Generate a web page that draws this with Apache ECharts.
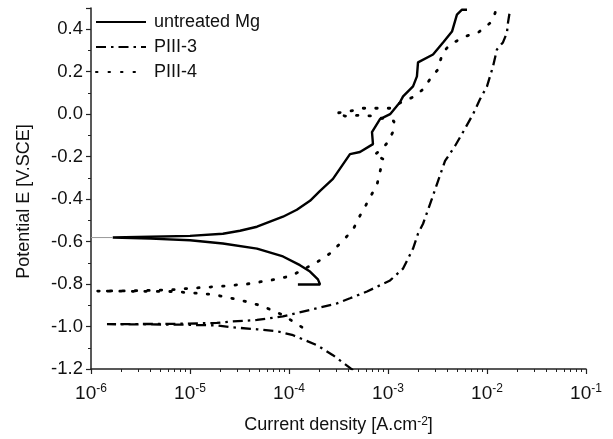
<!DOCTYPE html>
<html>
<head>
<meta charset="utf-8">
<script src="https://cdn.jsdelivr.net/npm/echarts@6/dist/echarts.min.js"></script>
<style>
html,body{margin:0;padding:0;background:#fff;}
#c{width:613px;height:439px;}
</style>
</head>
<body>
<div id="c"></div>
<script>
// ---- data (current density A/cm2, potential V vs SCE) ----
var seriesNames = ['untreated Mg', 'PIII-3', 'PIII-4'];
var xTickExponents = [-6, -5, -4, -3, -2, -1];
var yTickLabels = [-1.2, -1.0, -0.8, -0.6, -0.4, -0.2, 0.0, 0.2, 0.4];

var mgI = [1.23e-4, 2.06e-4, 1.96e-4, 1.63e-4, 1.29e-4, 8.69e-5, 4.75e-5, 2.15e-5, 1.0e-5, 4.0e-6, 1.66e-6,
           4.0e-6, 1.0e-5, 2.15e-5, 3.2e-5, 4.75e-5, 8.69e-5, 1.2e-4, 1.63e-4, 2.06e-4, 2.78e-4, 4.13e-4, 5.21e-4,
           7.05e-4, 6.89e-4, 8.30e-4, 1.05e-3, 1.32e-3, 1.42e-3, 1.79e-3, 1.96e-3, 2.01e-3, 2.85e-3, 3.60e-3,
           4.43e-3, 4.97e-3, 5.59e-3, 6.28e-3];
var mgE = [-0.802, -0.802, -0.778, -0.741, -0.711, -0.670, -0.633, -0.609, -0.594, -0.586, -0.581,
           -0.577, -0.573, -0.563, -0.549, -0.530, -0.483, -0.450, -0.408, -0.361, -0.305, -0.188, -0.178,
           -0.141, -0.084, -0.023, 0.0, 0.056, 0.084, 0.131, 0.178, 0.244, 0.281, 0.338,
           0.389, 0.469, 0.492, 0.492];

var p3I = [4.43e-4, 2.78e-4, 1.92e-4, 1.10e-4, 7.57e-5, 4.75e-5, 2.54e-5, 1.87e-5, 8e-6, 3.94e-6, 1.45e-6,
           3.94e-6, 8e-6, 1.87e-5, 2.54e-5, 4.75e-5, 8.69e-5, 1.92e-4, 3.05e-4, 4.13e-4, 6.14e-4, 1.05e-3,
           1.42e-3, 1.79e-3, 2.01e-3, 2.26e-3, 2.78e-3, 3.13e-3, 3.77e-3, 4.75e-3, 5.73e-3, 7.23e-3, 8.49e-3,
           1.0e-2, 1.15e-2, 1.26e-2, 1.45e-2, 1.59e-2, 1.63e-2, 1.71e-2];
var p3E = [-1.205, -1.135, -1.088, -1.041, -1.022, -1.013, -1.003, -0.995, -0.991, -0.990, -0.989,
           -0.988, -0.987, -0.983, -0.977, -0.969, -0.952, -0.914, -0.891, -0.867, -0.835, -0.783,
           -0.727, -0.633, -0.563, -0.516, -0.398, -0.328, -0.220, -0.150, -0.084, 0.0, 0.070,
           0.131, 0.225, 0.305, 0.338, 0.384, 0.431, 0.492];

var p4I = [1.35e-4, 8.69e-5, 5.33e-5, 3.20e-5, 1.71e-5, 6.73e-6, 2.48e-6, 1.15e-6, 2.48e-6, 6.0e-6, 1.0e-5,
           2.01e-5, 3.77e-5, 7.57e-5, 1.07e-4, 1.96e-4, 2.59e-4, 3.43e-4, 4.43e-4, 5.21e-4, 6.0e-4, 6.89e-4,
           7.74e-4, 8.30e-4, 8.90e-4, 7.23e-4, 8.49e-4, 1.0e-3, 1.12e-3, 1.15e-3, 7.05e-4, 5.09e-4, 3.68e-4,
           2.99e-4, 4.13e-4, 5.46e-4, 7.40e-4, 1.07e-3, 1.42e-3, 1.79e-3, 2.26e-3, 2.65e-3, 3.20e-3, 3.35e-3,
           3.60e-3, 4.23e-3, 6.0e-3, 8.11e-3, 8.89e-3, 1.12e-2, 1.21e-2, 1.23e-2];
var p4E = [-1.003, -0.946, -0.903, -0.875, -0.849, -0.835, -0.834, -0.833, -0.832, -0.828, -0.820,
           -0.811, -0.800, -0.777, -0.760, -0.694, -0.656, -0.600, -0.544, -0.478, -0.427, -0.375,
           -0.333, -0.272, -0.211, -0.192, -0.169, -0.131, -0.084, -0.033, -0.009, -0.005, -0.009,
           0.005, 0.014, 0.028, 0.028, 0.028, 0.061, 0.080, 0.117, 0.164, 0.211, 0.248,
           0.291, 0.328, 0.366, 0.384, 0.398, 0.436, 0.478, 0.502];

// faint baseline at the corrosion potential of untreated Mg
var mgLeadI = [1.0e-6, 1.66e-6];
var mgLeadE = [-0.581, -0.581];

function pairs(xs, ys) { return xs.map(function (x, i) { return [x, ys[i]]; }); }

var minorVals = [];
xTickExponents.slice(0, -1).forEach(function (e) {
  for (var k = 2; k <= 9; k++) minorVals.push(k * Math.pow(10, e));
});

var FONT = 'Liberation Sans';
var chart = echarts.init(document.getElementById('c'), null, {renderer: 'canvas'});
chart.setOption({
  backgroundColor: '#fff',
  animation: false,
  grid: {left: 91, right: 27, top: 8, bottom: 67},
  legend: {
    data: seriesNames,
    orient: 'vertical',
    left: 95, top: 13, padding: 0,
    itemWidth: 50, itemHeight: 14, itemGap: 7,
    itemStyle: {opacity: 0},
    textStyle: {fontFamily: FONT, fontSize: 18, color: '#111', padding: [0, 0, 0, 3]}
  },
  xAxis: [{
    type: 'log', logBase: 10, min: 1e-6, max: 1e-1, splitNumber: 5,
    name: 'Current density [A.cm{sup|-2}]',
    nameLocation: 'middle', nameGap: 47,
    nameTextStyle: {fontFamily: FONT, fontSize: 18, color: '#111',
      rich: {sup: {fontFamily: FONT, fontSize: 12, color: '#111', verticalAlign: 'top', lineHeight: 12}}},
    axisLine: {show: true, onZero: false, lineStyle: {color: '#222', width: 1.5}},
    axisTick: {show: true, length: 5, lineStyle: {color: '#222', width: 1.2}},
    splitLine: {show: false},
    axisLabel: {
      margin: 14,
      formatter: function (v) { return '{b|10}{s|' + Math.round(Math.log10(v)) + '}'; },
      rich: {
        b: {fontFamily: FONT, fontSize: 19, color: '#111', lineHeight: 22},
        s: {fontFamily: FONT, fontSize: 12, color: '#111', verticalAlign: 'top', lineHeight: 12}
      }
    }
  }, {
    type: 'log', logBase: 10, min: 1e-6, max: 1e-1, position: 'bottom', gridIndex: 0,
    axisLine: {show: false, onZero: false},
    axisLabel: {show: false},
    splitLine: {show: false},
    axisTick: {show: true, length: 3, customValues: minorVals, lineStyle: {color: '#222', width: 1}}
  }],
  yAxis: {
    type: 'value', min: -1.2, max: 0.5, interval: 0.2,
    name: 'Potential E [V.SCE]',
    nameLocation: 'middle', nameGap: 58, nameRotate: 90,
    nameTextStyle: {fontFamily: FONT, fontSize: 18, color: '#111', padding: [0, 26, 0, 0]},
    axisLine: {show: true, onZero: false, lineStyle: {color: '#222', width: 1.5}},
    axisTick: {show: true, length: 5, lineStyle: {color: '#222', width: 1.2}},
    minorTick: {show: true, splitNumber: 2, length: 3, lineStyle: {color: '#222', width: 1}},
    splitLine: {show: false},
    axisLabel: {
      margin: 8, showMaxLabel: false,
      fontFamily: FONT, fontSize: 18.5, color: '#111',
      formatter: function (v) {
        var r = Math.round(v * 10) / 10;
        return yTickLabels.indexOf(r) >= 0 ? r.toFixed(1) : '';
      }
    }
  },
  series: [{
    name: seriesNames[0], type: 'line', showSymbol: false, symbol: 'none',
    data: pairs(mgI, mgE),
    lineStyle: {color: '#000', width: 2.4, type: 'solid'}, itemStyle: {color: '#000'}
  }, {
    name: seriesNames[1], type: 'line', showSymbol: false, symbol: 'none',
    data: pairs(p3I, p3E),
    lineStyle: {color: '#000', width: 2.3, type: [10, 5, 2.5, 5]}, itemStyle: {color: '#000'}
  }, {
    name: seriesNames[2], type: 'line', showSymbol: false, symbol: 'none',
    data: pairs(p4I, p4E),
    lineStyle: {color: '#000', width: 2.8, type: [1.5, 11], cap: 'round'}, itemStyle: {color: '#000'}
  }, {
    name: 'lead', type: 'line', showSymbol: false, symbol: 'none',
    data: pairs(mgLeadI, mgLeadE),
    lineStyle: {color: '#999', width: 1}, silent: true
  }]
});
</script>
</body>
</html>
